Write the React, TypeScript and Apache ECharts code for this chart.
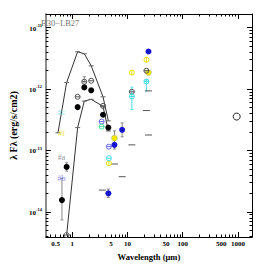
import React, { useEffect, useRef } from "react";
import * as echarts from "echarts";

// ---------- data (wavelength in µm, λFλ in erg/s/cm2) ----------
const chartTitle = "B30\u2212LB27";

const modelUpperWave = [0.55, 0.79, 1.25, 1.65, 2.2, 3.6, 4.5];
const modelUpperFlux = [1.93e-13, 1.27e-12, 4.03e-12, 3.74e-12, 2.38e-12, 7.45e-13, 3.02e-13];

const modelLowerWave = [0.79, 1.25, 1.65, 2.2, 3.6, 4.5];
const modelLowerFlux = [4.19e-15, 2.35e-13, 6.34e-13, 6.78e-13, 5.21e-13, 2.07e-13];

const blackWave = [0.65, 0.79, 1.25, 1.65, 2.2, 3.6, 4.5];
const blackFlux = [1.55e-14, 5.37e-14, 5.06e-13, 1.06e-12, 9.5e-13, 3.8e-13, 2.35e-13];

const grayWave = [1.25, 1.65, 2.2, 3.6, 12, 22];
const grayFlux = [7.45e-13, 1.31e-12, 1.36e-12, 5.3e-13, 8.98e-13, 1.98e-12];

const openSmallWave = [0.79];
const openSmallFlux = [4.19e-15];
const openLargeWave = [950];
const openLargeFlux = [3.55e-13];

const yellowFilledWave = [5.8, 24];
const yellowFilledFlux = [1.58e-13, 1.85e-12];

const yellowOpenWave = [4.6, 12, 22];
const yellowOpenFlux = [6.2e-14, 1.85e-12, 2.99e-12];

const cyanWave = [4.6, 12, 22];
const cyanFlux = [7.45e-14, 7.53e-13, 1.32e-12];

const blueOpenWave = [3.4, 4.6];
const blueOpenFlux = [2.94e-13, 1.15e-13];

const blueFilledWave = [4.5, 5.8, 8.0, 24];
const blueFilledFlux = [2.0e-14, 1.23e-13, 2.16e-13, 4.07e-12];

const greenWave = [3.4];
const greenFlux = [2.44e-13];

const dashWave = [3.5, 5.8, 8.0, 12, 22, 24, 24];
const dashFlux = [2.26e-14, 6.0e-14, 3.73e-14, 1.23e-13, 4.45e-13, 1.78e-13, 9.3e-13];

const tagNames = ["#c", "#f", "#a", "#b"];
const tagWave = [0.64, 0.64, 0.64, 0.64];
const tagFlux = [4.13e-13, 1.9e-13, 7.8e-14, 3.5e-14];
const tagColors = ["#55dde8", "#e0e000", "#777777", "#6a6af0"];

const errGrayWave = [0.65, 0.79, 1.65, 5.8, 5.8, 8.0, 4.5];
const errGrayLow = [7.4e-15, 4.6e-14, 1.31e-12, 1.18e-13, 1.05e-13, 1.66e-13, 1.71e-14];
const errGrayHigh = [3.5e-14, 6.3e-14, 1.58e-12, 2.08e-13, 1.45e-13, 2.8e-13, 2.35e-14];

const errCyanWave = [12, 22];
const errCyanLow = [4.6e-13, 9.3e-13];
const errCyanHigh = [1.07e-12, 1.4e-12];

// ---------- axis ticks ----------
const xMajorTicks = [1, 10, 100, 1000];
const minorMult = [2, 3, 4, 5, 6, 7, 8, 9];
const xDecades = [0.1, 1, 10, 100, 1000];
const xLabelValues = [0.5, 1, 5, 10, 50, 100, 500, 1000];
const yMajorTicks = [1e-14, 1e-13, 1e-12, 1e-11];
const yDecades = [1e-15, 1e-14, 1e-13, 1e-12, 1e-11];

// ---------- helpers ----------
const L = (v: number) => Math.log10(v);
const pts = (w: number[], f: number[]) => w.map((x, i) => [L(x), L(f[i])]);
const minorOf = (decades: number[]) => {
  const out: number[] = [];
  decades.forEach((d) => minorMult.forEach((m) => out.push(L(d * m))));
  return out;
};

const xMin = -0.478, xMax = 3.255, yMin = -14.41, yMax = -10.78;
const SERIF = "'Liberation Serif', 'DejaVu Serif', serif";

const thetaH = "path://M10,0A10,10,0,1,1,10,20A10,10,0,1,1,10,0ZM0,10L20,10";
const thetaV = "path://M10,0A10,10,0,1,1,10,20A10,10,0,1,1,10,0ZM10,0L10,20";

function xAx(position: "top" | "bottom", ticks: number[], len: number, line: boolean, labels: boolean) {
  return {
    type: "value", position, min: xMin, max: xMax,
    axisLine: { show: line, onZero: false, lineStyle: { color: "#000", width: 1 } },
    axisTick: { show: true, inside: true, length: len, customValues: ticks, lineStyle: { color: "#000", width: 1 } },
    axisLabel: labels
      ? {
          show: true, customValues: xLabelValues.map(L), margin: 3,
          fontSize: 7, fontWeight: "bold", fontFamily: SERIF, color: "#000",
          formatter: (v: number) => String(Number(Math.pow(10, v).toPrecision(3))),
        }
      : { show: false },
    splitLine: { show: false },
  };
}

function yAx(position: "left" | "right", ticks: number[], len: number, line: boolean, labels: boolean, lineColor = "#000", lineWidth = 1) {
  return {
    type: "value", position, min: yMin, max: yMax,
    axisLine: { show: line, onZero: false, lineStyle: { color: lineColor, width: lineWidth } },
    axisTick: { show: true, inside: true, length: len, customValues: ticks, lineStyle: { color: "#000", width: 1 } },
    axisLabel: labels
      ? {
          show: true, customValues: yMajorTicks.map(L), margin: 4,
          formatter: (v: number) => `{b|10}{s|${Math.round(v)}}`,
          rich: {
            b: { fontSize: 7, fontWeight: "bold", fontFamily: SERIF, color: "#000", lineHeight: 9, verticalAlign: "bottom" },
            s: { fontSize: 4.5, fontWeight: "bold", fontFamily: SERIF, color: "#000", lineHeight: 5, verticalAlign: "top" },
          },
        }
      : { show: false },
    splitLine: { show: false },
  };
}

function errSeries(w: number[], lo: number[], hi: number[], color: string) {
  return {
    type: "custom", z: 3,
    data: w.map((x, i) => [L(x), L(lo[i]), L(hi[i])]),
    renderItem: (_p: any, api: any) => {
      const a = api.coord([api.value(0), api.value(1)]);
      const b = api.coord([api.value(0), api.value(2)]);
      const st = { stroke: color, lineWidth: 1 };
      return {
        type: "group",
        children: [
          { type: "line", shape: { x1: a[0], y1: a[1], x2: b[0], y2: b[1] }, style: st },
          { type: "line", shape: { x1: a[0] - 1.5, y1: a[1], x2: a[0] + 1.5, y2: a[1] }, style: st },
          { type: "line", shape: { x1: b[0] - 1.5, y1: b[1], x2: b[0] + 1.5, y2: b[1] }, style: st },
        ],
      };
    },
  };
}

function scat(w: number[], f: number[], symbol: string, size: any, fill: string, stroke: string, bw: number, z = 5) {
  return {
    type: "scatter", z, symbol, symbolSize: size,
    data: pts(w, f),
    itemStyle: { color: fill, borderColor: stroke, borderWidth: bw, opacity: 1 },
  };
}

const option: any = {
  animation: false,
  title: {
    text: chartTitle, left: 41, top: 18, padding: 0,
    textStyle: { fontSize: 8.5, fontWeight: "normal", fontFamily: SERIF, color: "#777" },
  },
  grid: { left: 28, right: 14, top: 14, bottom: 29 },
  xAxis: [
    {
      ...xAx("bottom", xMajorTicks.map(L), 5, true, true),
      name: "Wavelength (\u03bcm)", nameLocation: "middle", nameGap: 15,
      nameTextStyle: { fontSize: 8.5, fontWeight: "bold", fontFamily: SERIF, color: "#000" },
    },
    xAx("bottom", minorOf(xDecades), 2.5, false, false),
    xAx("top", xMajorTicks.map(L), 5, true, false),
    xAx("top", minorOf(xDecades), 2.5, false, false),
  ],
  yAxis: [
    {
      ...yAx("left", yMajorTicks.map(L), 5, true, true, "#666", 1.5),
      name: "\u03bb F\u03bb (erg/s/cm2)", nameLocation: "middle", nameGap: 17, nameRotate: 90,
      nameTextStyle: { fontSize: 10, fontWeight: "bold", fontFamily: SERIF, color: "#000" },
    },
    yAx("left", minorOf(yDecades), 2.5, false, false),
    yAx("right", yMajorTicks.map(L), 5, true, false),
    yAx("right", minorOf(yDecades), 2.5, false, false),
  ],
  series: [
    {
      type: "line", z: 2, data: pts(modelUpperWave, modelUpperFlux),
      lineStyle: { color: "#333", width: 1 }, symbol: "rect", symbolSize: [5, 1],
      itemStyle: { color: "#666" }, showSymbol: true,
    },
    {
      type: "line", z: 2, data: pts(modelLowerWave, modelLowerFlux),
      lineStyle: { color: "#333", width: 1 }, symbol: "rect", symbolSize: [5, 1],
      itemStyle: { color: "#666" }, showSymbol: true,
    },
    errSeries(errGrayWave, errGrayLow, errGrayHigh, "#888"),
    errSeries(errCyanWave, errCyanLow, errCyanHigh, "#55dde8"),
    scat(dashWave, dashFlux, "rect", [7, 1], "#555", "#555", 0, 4),
    scat(yellowFilledWave, yellowFilledFlux, "circle", 6, "#f0e800", "#aaa", 0.5),
    scat(grayWave, grayFlux, thetaH, 5, "rgba(255,255,255,0)", "#555", 1),
    scat(openSmallWave, openSmallFlux, "circle", 5, "rgba(255,255,255,0)", "#555", 1),
    scat(openLargeWave, openLargeFlux, "circle", 7, "rgba(255,255,255,0)", "#222", 1),
    scat(blackWave, blackFlux, "circle", 6, "#000", "#000", 0),
    scat(yellowOpenWave, yellowOpenFlux, thetaV, 5, "rgba(255,255,255,0)", "#e8e000", 1),
    scat(cyanWave, cyanFlux, thetaH, 5, "rgba(255,255,255,0)", "#44dde8", 1),
    scat(blueOpenWave, blueOpenFlux, thetaH, 5, "rgba(255,255,255,0)", "#6a6af0", 1),
    scat(greenWave, greenFlux, thetaH, 5, "rgba(255,255,255,0)", "#44dd99", 1),
    scat(blueFilledWave, blueFilledFlux, "circle", 6, "#1515cc", "#1515cc", 0),
    {
      type: "scatter", z: 6, symbol: "circle", symbolSize: 1,
      itemStyle: { color: "rgba(0,0,0,0)" },
      data: tagNames.map((n, i) => ({
        name: n,
        value: [L(tagWave[i]), L(tagFlux[i])],
        label: { color: tagColors[i] },
      })),
      label: {
        show: true, position: "inside", formatter: (p: any) => p.name,
        fontSize: 8, fontFamily: SERIF,
      },
    },
  ],
};

export default function App() {
  const ref = useRef<HTMLDivElement>(null);
  useEffect(() => {
    document.body.style.margin = "0";
    const chart = echarts.init(ref.current!, null, { renderer: "svg" });
    chart.setOption(option);
    return () => chart.dispose();
  }, []);
  return <div ref={ref} style={{ width: 266, height: 266 }} />;
}
